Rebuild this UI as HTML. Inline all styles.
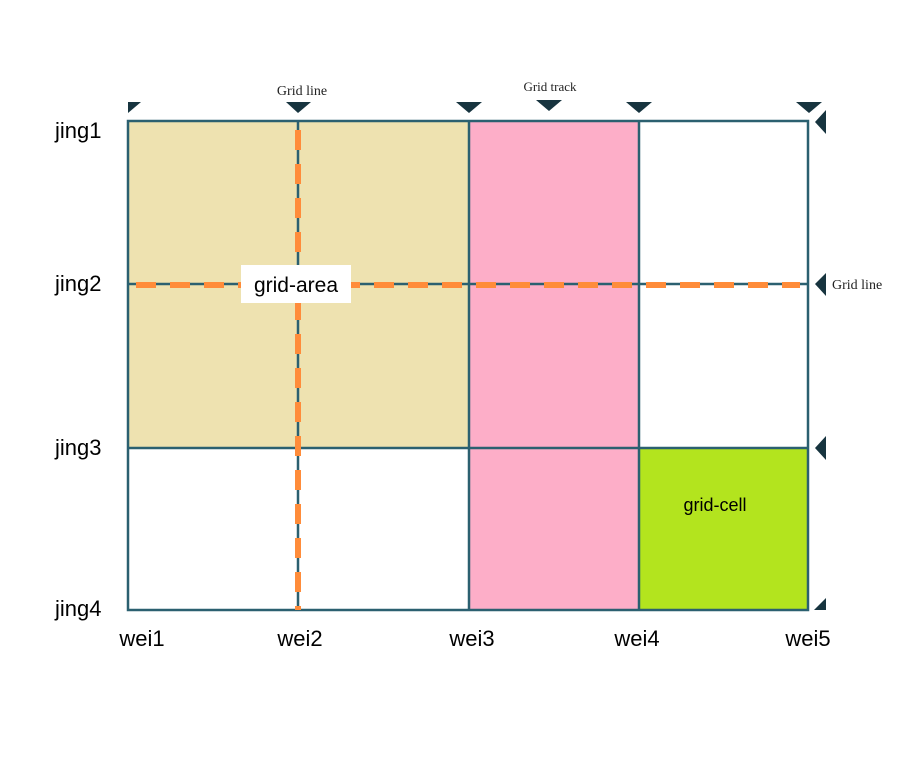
<!DOCTYPE html>
<html><head><meta charset="utf-8"><style>
body{margin:0;background:#fff;width:915px;height:759px;overflow:hidden}
</style></head><body>
<svg width="915" height="759" xmlns="http://www.w3.org/2000/svg">
<rect x="128" y="121" width="341" height="327" fill="#eee2b0"/>
<rect x="469" y="121" width="170" height="489" fill="#fdaec8" stroke="#d8333d" stroke-width="2"/>
<rect x="639" y="448" width="169" height="162" fill="#b3e41e"/>
<g stroke="#2b6070" stroke-width="2.5" fill="none">
<rect x="128" y="121" width="680" height="489"/>
<line x1="298" y1="121" x2="298" y2="610"/>
<line x1="469" y1="121" x2="469" y2="610"/>
<line x1="639" y1="121" x2="639" y2="610"/>
<line x1="128" y1="284" x2="808" y2="284"/>
<line x1="128" y1="448" x2="808" y2="448"/>
</g>
<g stroke="#ff8c3a" stroke-width="6" stroke-dasharray="20 14">
<line x1="298" y1="130" x2="298" y2="610"/>
<line x1="136" y1="285" x2="800" y2="285"/>
</g>
<rect x="241" y="265" width="110" height="38" fill="#fff"/>
<text x="296" y="292" font-family="Liberation Sans, DejaVu Sans, sans-serif" font-size="21" text-anchor="middle" fill="#000">grid-area</text>
<text x="715" y="511" font-family="Liberation Sans, DejaVu Sans, sans-serif" font-size="18" text-anchor="middle" fill="#000">grid-cell</text>
<g fill="#17343f">
<polygon points="128,102 141,102 128,113"/>
<polygon points="286,102 311,102 298,113"/>
<polygon points="456,102 482,102 469,113"/>
<polygon points="536,100 562,100 549,111"/>
<polygon points="626,102 652,102 639,113"/>
<polygon points="796,102 822,102 809,113"/>
<polygon points="826,110 826,134 815,122"/>
<polygon points="826,273 826,296 815,284"/>
<polygon points="826,436 826,460 815,448"/>
<polygon points="826,598 826,610 814,610"/>
</g>
<g font-family="Liberation Serif, DejaVu Serif, serif" font-size="14" fill="#222">
<text x="302" y="95" text-anchor="middle">Grid line</text>
<text x="550" y="91" text-anchor="middle" font-size="13">Grid track</text>
<text x="832" y="289">Grid line</text>
</g>
<g font-family="Liberation Sans, DejaVu Sans, sans-serif" font-size="22" fill="#000">
<text x="55" y="138">jing1</text>
<text x="55" y="291">jing2</text>
<text x="55" y="455">jing3</text>
<text x="55" y="616">jing4</text>
<text x="142" y="646" text-anchor="middle">wei1</text>
<text x="300" y="646" text-anchor="middle">wei2</text>
<text x="472" y="646" text-anchor="middle">wei3</text>
<text x="637" y="646" text-anchor="middle">wei4</text>
<text x="808" y="646" text-anchor="middle">wei5</text>
</g>
</svg>
</body></html>
